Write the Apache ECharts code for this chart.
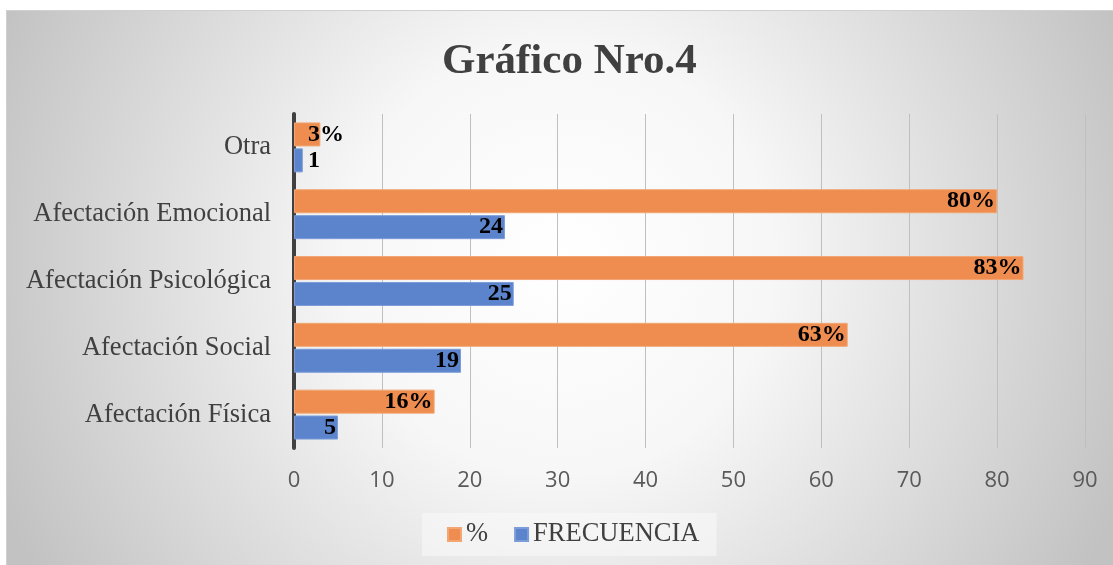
<!DOCTYPE html>
<html>
<head>
<meta charset="utf-8">
<script src="https://cdn.jsdelivr.net/npm/echarts@6/dist/echarts.min.js"></script>
<style>
  html, body { margin: 0; padding: 0; background: #ffffff; }
  #chart {
    position: absolute; left: 6px; top: 10px;
    width: 1107px; height: 555px;
    border-top: 1px solid #d0d0d0; border-left: 1px solid #d0d0d0;
    box-sizing: border-box;
  }
</style>
</head>
<body>
<div id="chart"></div>
<script>
const categories = ["Afectación Física", "Afectación Social", "Afectación Psicológica", "Afectación Emocional", "Otra"];
const frecuencia = [5, 19, 25, 24, 1];
const porcentaje = [16, 63, 83, 80, 3];
const xTicks = [0, 10, 20, 30, 40, 50, 60, 70, 80, 90];

const serif = "'Liberation Serif', 'Times New Roman', serif";

// short bars (Otra) get their label pushed past the end of the bar
const toItems = (arr) =>
  arr.map((v, i) =>
    categories[i] === "Otra"
      ? { value: v, label: { position: [14, "50%"], align: "left", verticalAlign: "middle" } }
      : v
  );

const renderChart = () => {
  var myChart = echarts.init(document.getElementById("chart"));
  var labelStyle = {
    show: true,
    position: "insideRight",
    distance: 2,
    color: "#000000",
    fontFamily: serif,
    fontWeight: "bold",
    fontSize: 24,
  };
  var option = {
    backgroundColor: new echarts.graphic.RadialGradient(0.5, 0.45, 1.1, [
      { offset: 0, color: "#ffffff" },
      { offset: 0.35, color: "#f7f7f7" },
      { offset: 1, color: "#c2c2c2" },
    ]),
    title: {
      text: "Gráfico Nro.4",
      left: 430,
      top: 24,
      textStyle: { fontFamily: serif, fontWeight: "bold", fontSize: 43, color: "#404040" },
    },
    legend: {
      data: ["%", "FRECUENCIA"],
      bottom: 9,
      left: 415,
      icon: "rect",
      itemWidth: 13,
      itemHeight: 13,
      itemGap: 26,
      padding: [8, 17, 8, 25],
      backgroundColor: "rgba(250,250,250,0.55)",
      textStyle: { fontFamily: serif, fontSize: 26.5, color: "#404040" },
    },
    grid: { left: 287, right: 28, top: 103, bottom: 117 },
    xAxis: {
      type: "value",
      min: 0,
      max: 90,
      interval: 10,
      axisLine: { show: false },
      axisTick: { show: false },
      axisLabel: {
        margin: 22,
        fontFamily: "'Open Sans', sans-serif",
        fontSize: 22,
        color: "#595959",
        formatter: (v) => (xTicks.includes(v) ? String(v) : ""),
      },
      splitLine: { lineStyle: { color: "#bfbfbf", width: 1 } },
    },
    yAxis: {
      type: "category",
      data: categories,
      axisTick: { show: false },
      axisLine: { lineStyle: { color: "#404040", width: 4 } },
      axisLabel: { margin: 23, fontFamily: serif, fontSize: 26.5, color: "#404040" },
    },
    series: [
      {
        name: "%",
        type: "bar",
        data: toItems(porcentaje),
        barWidth: 24,
        barGap: "8%",
        itemStyle: { color: "#ee8d4f", borderColor: "#f2a672", borderWidth: 1 },
        label: Object.assign({}, labelStyle, { formatter: "{c}%" }),
      },
      {
        name: "FRECUENCIA",
        type: "bar",
        data: toItems(frecuencia),
        barWidth: 24,
        barGap: "8%",
        itemStyle: { color: "#5b84cc", borderColor: "#7b9cd8", borderWidth: 1 },
        label: labelStyle,
      },
    ],
  };
  myChart.setOption(option);
};

document.addEventListener("DOMContentLoaded", renderChart);
</script>
</body>
</html>
